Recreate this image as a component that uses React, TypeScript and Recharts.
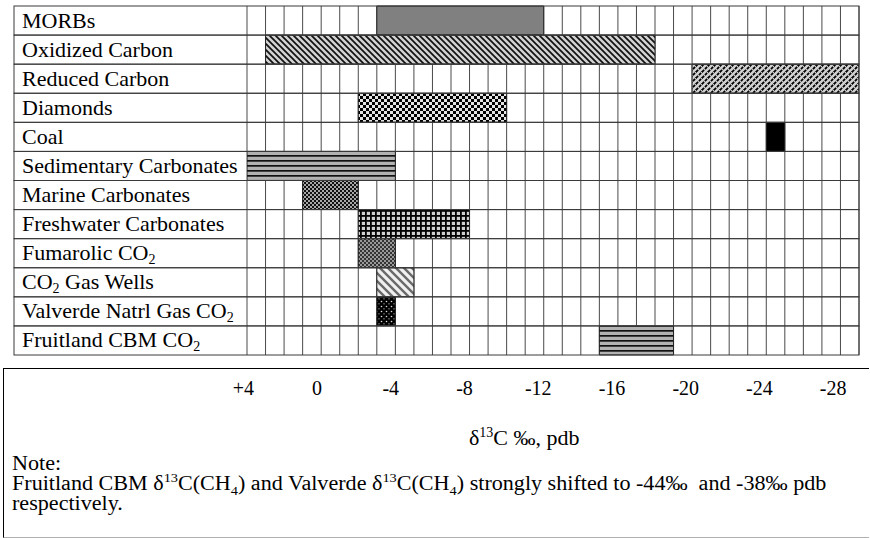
import React from 'react';
import { BarChart, Bar, XAxis, YAxis, CartesianGrid, Cell } from 'recharts';

// rows of the table, top to bottom
const categories = [
  'MORBs',
  'Oxidized Carbon',
  'Reduced Carbon',
  'Diamonds',
  'Coal',
  'Sedimentary Carbonates',
  'Marine Carbonates',
  'Freshwater Carbonates',
  'Fumarolic CO2',
  'CO2 Gas Wells',
  'Valverde Natrl Gas CO2',
  'Fruitland CBM CO2',
];

// d13C range per row (per mil, pdb): heavy end, light end
const rangeStart = [-3, 3, -20, -2, -24, 4, 1, -2, -2, -3, -3, -15];
const rangeEnd = [-12, -18, -29, -10, -25, -4, -2, -8, -4, -5, -4, -19];

const fills = [
  '#808080',
  'url(#pOxid)',
  'url(#pReduced)',
  'url(#pChecker)',
  '#000000',
  'url(#pStripe)',
  'url(#pMarine)',
  'url(#pPlaid)',
  'url(#pFumarolic)',
  'url(#pWells)',
  'url(#pValverde)',
  'url(#pStripe)',
];

// one grid column per per-mil unit
const gridTicks = [
  4, 3, 2, 1, 0, -1, -2, -3, -4, -5, -6, -7, -8, -9, -10, -11, -12, -13, -14, -15, -16,
  -17, -18, -19, -20, -21, -22, -23, -24, -25, -26, -27, -28, -29,
];
const labelTicks = [4, 0, -4, -8, -12, -16, -20, -24, -28];

const data = categories.map((name, i) => ({ name, range: [rangeStart[i], rangeEnd[i]] }));

const W = 870;
const H = 538;
const FONT = '"Liberation Serif", "Times New Roman", serif';
const TABLE_LEFT = 14;
const TABLE_RIGHT = 859;
const PLOT_H = 349;
const serif = { fontFamily: FONT };

function chem(s: string) {
  if (!s.includes('CO2')) return s;
  const [pre, post] = s.split('CO2');
  return [
    <tspan key="a">{pre + 'CO'}</tspan>,
    <tspan key="b" dy={4} fontSize={14}>2</tspan>,
    post ? <tspan key="c" dy={-4}>{post}</tspan> : null,
  ];
}

function RowTick(props: any) {
  const { y, payload } = props;
  const half = payload.offset || PLOT_H / categories.length / 2;
  return (
    <g>
      <rect x={TABLE_LEFT} y={y - half} width={TABLE_RIGHT - TABLE_LEFT} height={half * 2} fill="none" stroke="#3a3a3a" />
      <text x={TABLE_LEFT + 8} y={y} dy={7} fontSize={22} style={serif} fill="#000" textAnchor="start">
        {chem(payload.value)}
      </text>
    </g>
  );
}

function ValueTick(props: any) {
  const { x, y, payload } = props;
  const v = payload.value;
  return (
    <text x={x} y={y} dy={32} textAnchor="middle" fontSize={20} style={serif} fill="#000">
      {v > 0 ? `+${v}` : `${v}`}
    </text>
  );
}

function AxisTitle(props: any) {
  const vb = props.viewBox || { x: 247, y: 355, width: 612 };
  return (
    <text x={vb.x + vb.width * 0.453} y={vb.y + 90} textAnchor="middle" fontSize={22} style={serif} fill="#000">
      δ<tspan dy={-8} fontSize={14}>13</tspan>
      <tspan dy={8}>C ‰, pdb</tspan>
    </text>
  );
}

const supStyle: React.CSSProperties = { fontSize: 13, verticalAlign: 'super', lineHeight: 0 };
const subStyle: React.CSSProperties = { fontSize: 13, verticalAlign: 'sub', lineHeight: 0 };

export default function App() {
  return (
    <div style={{ position: 'absolute', left: 0, top: 0, width: W, height: H, background: '#fff', fontFamily: FONT }}>
      <BarChart
        width={W}
        height={H}
        data={data}
        layout="vertical"
        margin={{ top: 6, right: W - TABLE_RIGHT, bottom: 0, left: 0 }}
        barCategoryGap={0}
        barGap={0}
      >
        <defs>
          <pattern id="pOxid" width="6" height="6" patternUnits="userSpaceOnUse">
            <rect width="6" height="6" fill="#d2d2d2" />
            <path d="M-1,-1 L7,7 M-1,5 L1,7 M5,-1 L7,1" stroke="#111" strokeWidth="1.7" />
          </pattern>
          <pattern id="pReduced" width="6" height="6" patternUnits="userSpaceOnUse">
            <rect width="6" height="6" fill="#d2d2d2" />
            <path d="M0,6 L6,0 M-1,1 L1,-1 M5,7 L7,5" stroke="#000" strokeWidth="1.8" strokeDasharray="3 1.2" />
          </pattern>
          <pattern id="pChecker" width="6" height="6" patternUnits="userSpaceOnUse">
            <rect width="6" height="6" fill="#e4e4e4" />
            <rect width="3" height="3" fill="#000" />
            <rect x="3" y="3" width="3" height="3" fill="#000" />
          </pattern>
          <pattern id="pStripe" width="6" height="5" patternUnits="userSpaceOnUse">
            <rect width="6" height="5" fill="#b2b2b2" />
            <rect width="6" height="1.7" fill="#111" />
          </pattern>
          <pattern id="pMarine" width="4" height="4" patternUnits="userSpaceOnUse">
            <rect width="4" height="4" fill="#111" />
            <circle cx="1" cy="1" r="0.9" fill="#eee" />
            <circle cx="3" cy="3" r="0.9" fill="#eee" />
          </pattern>
          <pattern id="pFumarolic" width="4" height="4" patternUnits="userSpaceOnUse">
            <rect width="4" height="4" fill="#333" />
            <circle cx="1" cy="1" r="1" fill="#bbb" />
            <circle cx="3" cy="3" r="1" fill="#bbb" />
          </pattern>
          <pattern id="pPlaid" width="5" height="5" patternUnits="userSpaceOnUse">
            <rect width="5" height="5" fill="#d0d0d0" />
            <rect width="1.8" height="5" fill="#000" />
            <rect width="5" height="1.8" fill="#000" />
          </pattern>
          <pattern id="pWells" width="8" height="8" patternUnits="userSpaceOnUse">
            <rect width="8" height="8" fill="#f0f0f0" />
            <path d="M-1,-1 L9,9 M-1,7 L1,9 M7,-1 L9,1" stroke="#6a6a6a" strokeWidth="2.4" />
          </pattern>
          <pattern id="pValverde" width="5" height="5" patternUnits="userSpaceOnUse">
            <rect width="5" height="5" fill="#000" />
            <circle cx="1.5" cy="1.5" r="0.8" fill="#ddd" />
            <circle cx="4" cy="3.8" r="0.6" fill="#ddd" />
          </pattern>
        </defs>
        <XAxis
          xAxisId="grid"
          type="number"
          domain={[-29, 4]}
          reversed
          ticks={gridTicks}
          interval={0}
          hide
          height={0}
          allowDataOverflow
        />
        <XAxis
          xAxisId="lab"
          type="number"
          domain={[-29.4, 3.8]}
          reversed
          ticks={labelTicks}
          interval={0}
          allowDataOverflow
          height={H - 355}
          axisLine={false}
          tickLine={false}
          tick={<ValueTick />}
          label={<AxisTitle />}
        />
        <YAxis type="category" dataKey="name" width={247} axisLine={false} tickLine={false} interval={0} tick={<RowTick />} />
        <Bar dataKey="range" xAxisId="grid" isAnimationActive={false} stroke="#222" strokeWidth={1}>
          {data.map((d, i) => (
            <Cell key={d.name} fill={fills[i]} />
          ))}
        </Bar>
        <CartesianGrid xAxisId="grid" vertical horizontal={false} stroke="#4a4a4a" strokeOpacity={1} />
      </BarChart>
      <div
        style={{
          position: 'absolute',
          left: 3,
          top: 368,
          width: 866,
          height: 170,
          boxSizing: 'border-box',
          borderTop: '1px solid #000',
          borderLeft: '1px solid #000',
          borderBottom: '1px solid #b0b0b0',
          pointerEvents: 'none',
        }}
      />
      <div
        style={{
          position: 'absolute',
          left: 12,
          top: 453,
          fontSize: 20,
          lineHeight: '20px',
          color: '#000',
          whiteSpace: 'nowrap',
          transform: 'scaleX(1.105)',
          transformOrigin: '0 0',
        }}
      >
        <div>Note:</div>
        <div>
          Fruitland CBM δ<sup style={supStyle}>13</sup>C(CH<sub style={subStyle}>4</sub>) and Valverde δ
          <sup style={supStyle}>13</sup>C(CH<sub style={subStyle}>4</sub>) strongly shifted to -44‰&nbsp; and -38‰ pdb
        </div>
        <div>respectively.</div>
      </div>
    </div>
  );
}
